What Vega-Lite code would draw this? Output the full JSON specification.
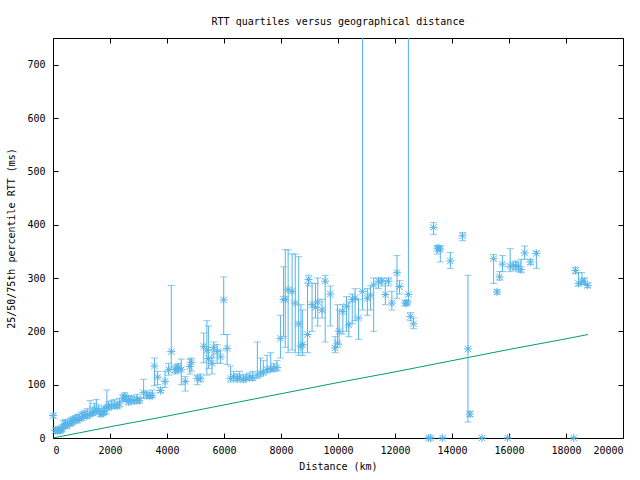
{
  "$schema": "https://vega.github.io/schema/vega-lite/v6.json",
  "width": 570,
  "height": 400,
  "autosize": "none",
  "padding": {"left": 53, "top": 38, "right": 17, "bottom": 42},
  "background": "white",
  "title": {"text": "RTT quartiles versus geographical distance", "font": "DejaVu Sans Mono", "fontSize": 10, "fontWeight": "normal", "color": "black", "anchor": "middle", "offset": 11},
  "config": {
    "view": {"stroke": "black", "strokeWidth": 1},
    "axis": {"labelFont": "DejaVu Sans Mono", "labelFontSize": 10, "titleFont": "DejaVu Sans Mono", "titleFontSize": 10, "titleFontWeight": "normal", "labelColor": "black", "titleColor": "black", "domainColor": "black", "tickColor": "black", "grid": false}
  },
  "datasets": {
    "rtt": [
      {"d":0,"lo":38,"med":42,"hi":46},{"d":80,"lo":10,"med":14,"hi":20},{"d":150,"lo":9,"med":13,"hi":18},{"d":200,"lo":11,"med":15,"hi":22},{"d":260,"lo":10,"med":14,"hi":19},{"d":320,"lo":12,"med":16,"hi":24},{"d":380,"lo":18,"med":25,"hi":33},{"d":430,"lo":20,"med":27,"hi":35},{"d":490,"lo":18,"med":24,"hi":30},{"d":600,"lo":22,"med":28,"hi":36},{"d":650,"lo":24,"med":30,"hi":38},{"d":700,"lo":26,"med":32,"hi":40},{"d":780,"lo":30,"med":35,"hi":42},{"d":850,"lo":28,"med":34,"hi":44},{"d":920,"lo":32,"med":37,"hi":45},{"d":1000,"lo":33,"med":38,"hi":48},{"d":1060,"lo":36,"med":41,"hi":50},{"d":1130,"lo":38,"med":43,"hi":52},{"d":1200,"lo":37,"med":42,"hi":55},{"d":1300,"lo":40,"med":45,"hi":70},{"d":1380,"lo":42,"med":47,"hi":58},{"d":1450,"lo":45,"med":50,"hi":65},{"d":1520,"lo":48,"med":54,"hi":72},{"d":1600,"lo":44,"med":50,"hi":62},{"d":1680,"lo":40,"med":45,"hi":55},{"d":1750,"lo":42,"med":47,"hi":58},{"d":1800,"lo":44,"med":50,"hi":60},{"d":1890,"lo":45,"med":58,"hi":90},{"d":1950,"lo":52,"med":60,"hi":68},{"d":2060,"lo":55,"med":60,"hi":70},{"d":2150,"lo":56,"med":62,"hi":72},{"d":2250,"lo":55,"med":60,"hi":68},{"d":2330,"lo":58,"med":64,"hi":74},{"d":2450,"lo":68,"med":75,"hi":82},{"d":2520,"lo":70,"med":78,"hi":85},{"d":2570,"lo":68,"med":73,"hi":80},{"d":2650,"lo":62,"med":68,"hi":78},{"d":2730,"lo":65,"med":72,"hi":80},{"d":2850,"lo":64,"med":70,"hi":78},{"d":2950,"lo":65,"med":72,"hi":82},{"d":3030,"lo":66,"med":70,"hi":76},{"d":3180,"lo":74,"med":85,"hi":110},{"d":3300,"lo":75,"med":80,"hi":88},{"d":3400,"lo":74,"med":78,"hi":85},{"d":3480,"lo":76,"med":80,"hi":90},{"d":3560,"lo":98,"med":135,"hi":150},{"d":3670,"lo":100,"med":114,"hi":125},{"d":3770,"lo":85,"med":89,"hi":95},{"d":3930,"lo":95,"med":106,"hi":125},{"d":4060,"lo":118,"med":128,"hi":140},{"d":4150,"lo":128,"med":162,"hi":286},{"d":4290,"lo":120,"med":128,"hi":135},{"d":4350,"lo":122,"med":130,"hi":138},{"d":4400,"lo":125,"med":132,"hi":140},{"d":4500,"lo":100,"med":128,"hi":148},{"d":4640,"lo":88,"med":106,"hi":115},{"d":4800,"lo":120,"med":134,"hi":148},{"d":4850,"lo":125,"med":142,"hi":150},{"d":5060,"lo":100,"med":112,"hi":118},{"d":5180,"lo":105,"med":112,"hi":120},{"d":5290,"lo":141,"med":172,"hi":197},{"d":5400,"lo":118,"med":165,"hi":220},{"d":5460,"lo":130,"med":149,"hi":210},{"d":5580,"lo":120,"med":140,"hi":165},{"d":5640,"lo":150,"med":170,"hi":180},{"d":5760,"lo":140,"med":162,"hi":175},{"d":5880,"lo":140,"med":152,"hi":165},{"d":5990,"lo":194,"med":259,"hi":302},{"d":6110,"lo":138,"med":168,"hi":194},{"d":6230,"lo":105,"med":112,"hi":135},{"d":6340,"lo":108,"med":115,"hi":125},{"d":6460,"lo":105,"med":112,"hi":120},{"d":6550,"lo":108,"med":114,"hi":125},{"d":6680,"lo":105,"med":110,"hi":118},{"d":6780,"lo":108,"med":112,"hi":120},{"d":6900,"lo":110,"med":114,"hi":122},{"d":7010,"lo":108,"med":113,"hi":125},{"d":7170,"lo":112,"med":118,"hi":180},{"d":7280,"lo":115,"med":122,"hi":150},{"d":7380,"lo":118,"med":124,"hi":145},{"d":7510,"lo":122,"med":128,"hi":155},{"d":7640,"lo":124,"med":130,"hi":160},{"d":7750,"lo":125,"med":131,"hi":140},{"d":7860,"lo":126,"med":132,"hi":145},{"d":7980,"lo":150,"med":187,"hi":230},{"d":8090,"lo":190,"med":260,"hi":321},{"d":8150,"lo":170,"med":260,"hi":353},{"d":8250,"lo":160,"med":278,"hi":353},{"d":8390,"lo":165,"med":275,"hi":345},{"d":8500,"lo":160,"med":253,"hi":345},{"d":8620,"lo":155,"med":214,"hi":340},{"d":8700,"lo":160,"med":172,"hi":250},{"d":8760,"lo":155,"med":175,"hi":240},{"d":8930,"lo":160,"med":194,"hi":290},{"d":8970,"lo":285,"med":297,"hi":305},{"d":9090,"lo":200,"med":250,"hi":290},{"d":9210,"lo":225,"med":245,"hi":290},{"d":9290,"lo":210,"med":255,"hi":300},{"d":9440,"lo":225,"med":240,"hi":260},{"d":9550,"lo":180,"med":294,"hi":305},{"d":9730,"lo":210,"med":270,"hi":285},{"d":9900,"lo":160,"med":169,"hi":190},{"d":9980,"lo":170,"med":178,"hi":250},{"d":10040,"lo":175,"med":200,"hi":240},{"d":10170,"lo":195,"med":237,"hi":250},{"d":10300,"lo":200,"med":247,"hi":265},{"d":10380,"lo":190,"med":212,"hi":255},{"d":10500,"lo":215,"med":260,"hi":270},{"d":10600,"lo":220,"med":262,"hi":280},{"d":10720,"lo":185,"med":225,"hi":260},{"d":10860,"lo":240,"med":275,"hi":900},{"d":11030,"lo":230,"med":262,"hi":280},{"d":11140,"lo":240,"med":268,"hi":285},{"d":11250,"lo":200,"med":287,"hi":300},{"d":11420,"lo":280,"med":294,"hi":300},{"d":11540,"lo":285,"med":294,"hi":300},{"d":11660,"lo":250,"med":269,"hi":295},{"d":11770,"lo":285,"med":294,"hi":300},{"d":11890,"lo":240,"med":253,"hi":275},{"d":12070,"lo":262,"med":310,"hi":342},{"d":12160,"lo":270,"med":284,"hi":295},{"d":12360,"lo":248,"med":253,"hi":258},{"d":12420,"lo":250,"med":253,"hi":258},{"d":12470,"lo":255,"med":269,"hi":900},{"d":12540,"lo":220,"med":228,"hi":235},{"d":12650,"lo":205,"med":214,"hi":225},{"d":13180,"lo":0,"med":0,"hi":0},{"d":13250,"lo":0,"med":0,"hi":0},{"d":13350,"lo":382,"med":395,"hi":404},{"d":13480,"lo":345,"med":356,"hi":360},{"d":13540,"lo":350,"med":356,"hi":360},{"d":13590,"lo":330,"med":354,"hi":360},{"d":13670,"lo":0,"med":0,"hi":0},{"d":13940,"lo":318,"med":332,"hi":348},{"d":14370,"lo":370,"med":379,"hi":385},{"d":14560,"lo":30,"med":167,"hi":305},{"d":14630,"lo":40,"med":45,"hi":50},{"d":15050,"lo":0,"med":0,"hi":0},{"d":15460,"lo":290,"med":336,"hi":344},{"d":15580,"lo":270,"med":274,"hi":278},{"d":15670,"lo":296,"med":302,"hi":312},{"d":15770,"lo":312,"med":326,"hi":342},{"d":15950,"lo":0,"med":0,"hi":0},{"d":16040,"lo":312,"med":322,"hi":355},{"d":16150,"lo":315,"med":323,"hi":330},{"d":16240,"lo":315,"med":323,"hi":332},{"d":16330,"lo":312,"med":322,"hi":330},{"d":16420,"lo":310,"med":316,"hi":335},{"d":16550,"lo":335,"med":347,"hi":360},{"d":16750,"lo":325,"med":330,"hi":335},{"d":16960,"lo":318,"med":346,"hi":350},{"d":18270,"lo":0,"med":0,"hi":0},{"d":18330,"lo":308,"med":314,"hi":320},{"d":18440,"lo":285,"med":290,"hi":310},{"d":18560,"lo":288,"med":294,"hi":310},{"d":18640,"lo":288,"med":294,"hi":300},{"d":18760,"lo":282,"med":286,"hi":290}
    ],
    "light": [
      {"d":0,"r":0},{"d":2000,"r":21},{"d":4000,"r":41},{"d":6000,"r":62},{"d":8000,"r":83},{"d":10000,"r":104},{"d":12000,"r":124},{"d":14000,"r":145},{"d":16000,"r":166},{"d":18000,"r":186},{"d":18770,"r":194}
    ]
  },
  "resolve": {"axis": {"x": "independent", "y": "independent"}},
  "layer": [
    {
      "data": {"name": "light"},
      "mark": {"type": "line", "color": "#009E73", "strokeWidth": 1, "clip": true},
      "encoding": {
        "x": {"field": "d", "type": "quantitative", "scale": {"domain": [0, 20000], "nice": false}, "axis": {"orient": "bottom", "title": "Distance (km)", "values": [0,2000,4000,6000,8000,10000,12000,14000,16000,18000,20000], "format": "d", "tickSize": -5, "labelPadding": 12, "titlePadding": 6, "domain": false}},
        "y": {"field": "r", "type": "quantitative", "scale": {"domain": [0, 750], "nice": false}, "axis": {"orient": "left", "title": "25/50/75th percentile RTT (ms)", "values": [0,100,200,300,400,500,600,700], "format": "d", "tickSize": -5, "labelPadding": 13, "titlePadding": 10, "domain": false}}
      }
    },
    {
      "data": {"name": "rtt"},
      "mark": {"type": "rule", "color": "#56B4E9", "strokeWidth": 1, "clip": true},
      "encoding": {
        "x": {"field": "d", "type": "quantitative", "axis": {"orient": "top", "labels": false, "title": null, "values": [0,2000,4000,6000,8000,10000,12000,14000,16000,18000,20000], "tickSize": -5, "domain": false}},
        "y": {"field": "lo", "type": "quantitative", "axis": {"orient": "right", "labels": false, "title": null, "values": [0,100,200,300,400,500,600,700], "tickSize": -5, "domain": false}},
        "y2": {"field": "hi"}
      }
    },
    {
      "data": {"name": "rtt"},
      "mark": {"type": "tick", "orient": "horizontal", "color": "#56B4E9", "thickness": 1, "size": 7, "clip": true},
      "encoding": {
        "x": {"field": "d", "type": "quantitative", "axis": null},
        "y": {"field": "lo", "type": "quantitative", "axis": null}
      }
    },
    {
      "data": {"name": "rtt"},
      "mark": {"type": "tick", "orient": "horizontal", "color": "#56B4E9", "thickness": 1, "size": 7, "clip": true},
      "encoding": {
        "x": {"field": "d", "type": "quantitative", "axis": null},
        "y": {"field": "hi", "type": "quantitative", "axis": null}
      }
    },
    {
      "data": {"name": "rtt"},
      "mark": {"type": "point", "shape": "M-1,0L1,0M0,-1L0,1M-0.8,-0.8L0.8,0.8M-0.8,0.8L0.8,-0.8", "size": 64, "filled": false, "color": "#56B4E9", "strokeWidth": 1, "opacity": 1},
      "encoding": {
        "x": {"field": "d", "type": "quantitative", "axis": null},
        "y": {"field": "med", "type": "quantitative", "axis": null}
      }
    }
  ]
}
